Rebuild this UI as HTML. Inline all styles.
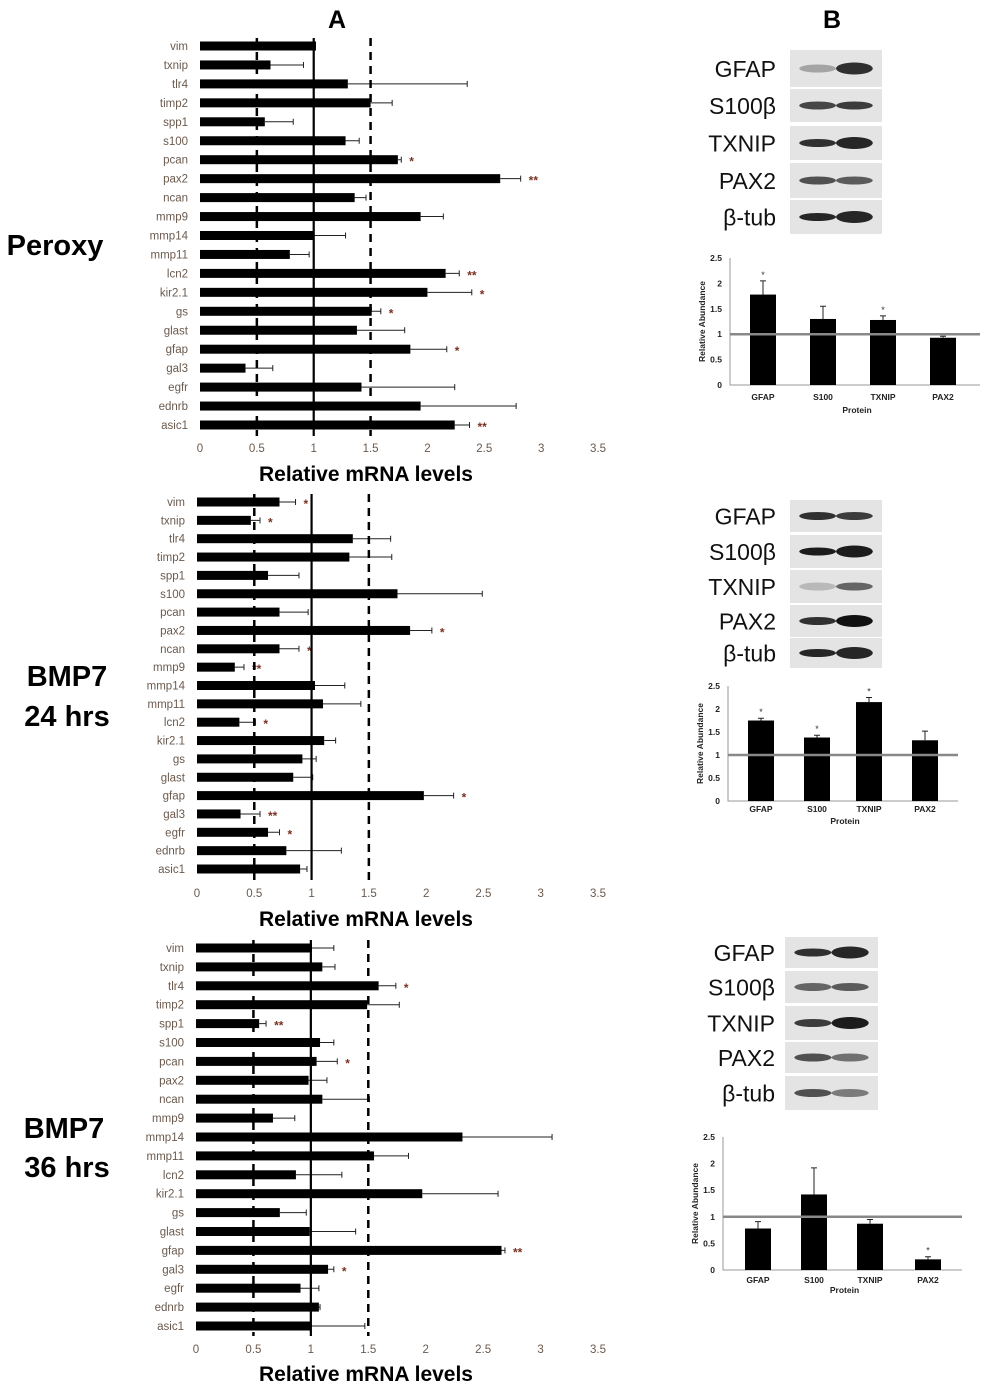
<!DOCTYPE html>
<html><head><meta charset="utf-8"><style>
html,body{margin:0;padding:0;background:#fff;}
svg{display:block;font-family:"Liberation Sans",Arial,sans-serif;}
</style></head><body>
<svg id="fig" width="984" height="1392" viewBox="0 0 984 1392"></svg>
<script>
const genes=["vim","txnip","tlr4","timp2","spp1","s100","pcan","pax2","ncan","mmp9","mmp14","mmp11","lcn2","kir2.1","gs","glast","gfap","gal3","egfr","ednrb","asic1"];
const xTicks=["0","0.5","1","1.5","2","2.5","3","3.5"];
const peroxyVals=[1.02,0.62,1.30,1.50,0.57,1.28,1.74,2.64,1.36,1.94,1.0,0.79,2.16,2.0,1.51,1.38,1.85,0.40,1.42,1.94,2.24];
const peroxyErr=[0,0.29,1.05,0.19,0.25,0.12,0.03,0.18,0.10,0.20,0.28,0.17,0.12,0.39,0.08,0.42,0.32,0.24,0.82,0.84,0.13];
const peroxySig=["","","","","","","*","**","","","","","**","*","*","","*","","","","**"];
const bmp24Vals=[0.72,0.47,1.36,1.33,0.62,1.75,0.72,1.86,0.72,0.33,1.03,1.10,0.37,1.11,0.92,0.84,1.98,0.38,0.62,0.78,0.90];
const bmp24Err=[0.14,0.08,0.33,0.37,0.27,0.74,0.25,0.19,0.17,0.08,0.26,0.33,0.14,0.10,0.12,0.17,0.26,0.17,0.10,0.48,0.06];
const bmp24Sig=["*","*","","","","","","*","*","**","","","*","","","","*","**","*","",""];
const bmp36Vals=[1.01,1.10,1.59,1.49,0.55,1.08,1.05,0.98,1.10,0.67,2.32,1.55,0.87,1.97,0.73,0.99,2.66,1.15,0.91,1.07,1.00];
const bmp36Err=[0.19,0.11,0.15,0.28,0.06,0.12,0.18,0.16,0.41,0.19,0.78,0.30,0.40,0.66,0.23,0.40,0.03,0.05,0.16,0.01,0.47];
const bmp36Sig=["","","*","","**","","*","","","","","","","","","","**","*","","",""];
const proteins=["GFAP","S100","TXNIP","PAX2"];
const yTicks=["0","0.5","1","1.5","2","2.5"];
const wb1Vals=[1.78,1.30,1.28,0.93], wb1Err=[0.27,0.25,0.08,0.03], wb1Sig=["*","","*",""];
const wb2Vals=[1.75,1.38,2.15,1.32], wb2Err=[0.05,0.05,0.10,0.20], wb2Sig=["*","*","*",""];
const wb3Vals=[0.78,1.42,0.87,0.20], wb3Err=[0.13,0.50,0.08,0.05], wb3Sig=["","","","*"];
const blotLabels=["GFAP","S100β","TXNIP","PAX2","β-tub"];

const NS="http://www.w3.org/2000/svg", svg=document.getElementById("fig");
function mk(tag,attrs,parent,text){const e=document.createElementNS(NS,tag);for(const k in attrs)e.setAttribute(k,attrs[k]);if(text!==undefined)e.textContent=text;(parent||svg).appendChild(e);return e;}

function hbar(name,vals,errs,sig,x0,x35,yFirst,yLast,tickY,titleY,lineTop,lineBot){
  const g=mk("g",{});
  
  
  const sx=v=>x0+(x35-x0)*v/3.5;
  const step=(yLast-yFirst)/(genes.length-1);
  const sy=i=>yFirst+i*step;
  genes.forEach((gn,i)=>{
    const t=mk("text",{x:x0-12,y:sy(i)+4,"text-anchor":"end","font-size":11.5,fill:"#6b5a4e"},g,gn);
    
    
    const b=mk("rect",{x:x0,y:sy(i)-4.5,width:sx(vals[i])-x0,height:9,fill:"#000"},g);
    
    
    if(errs[i]>0.005){
      const xe=sx(vals[i]+errs[i]);
      const l=mk("path",{d:`M${sx(vals[i])},${sy(i)}H${xe}M${xe},${sy(i)-3}V${sy(i)+3}`,stroke:"#222","stroke-width":1},g);
      
      
    }
    if(sig[i]){
      const s=mk("text",{x:sx(vals[i]+errs[i])+8,y:sy(i)+6,"font-size":12,fill:"#7a3020","font-weight":"bold"},g,sig[i]);
      
      
    }
  });
  [[0.5,true],[1,false],[1.5,true]].forEach(([v,d])=>{
    const l=mk("line",{x1:sx(v),x2:sx(v),y1:lineTop,y2:lineBot,stroke:"#000","stroke-width":d?2.5:2.2},g);
    if(d)l.setAttribute("stroke-dasharray","8,6");
    
    
  });
  xTicks.forEach((t,i)=>{
    const e=mk("text",{x:sx(i*0.5),y:tickY,"text-anchor":"middle","font-size":11.5,fill:"#6b5a4e"},g,t);
    
    
  });
  const ti=mk("text",{x:366,y:titleY,"text-anchor":"middle","font-size":21,"font-weight":"bold",fill:"#000"},g,"Relative mRNA levels");
  
  
}
hbar("peroxy",peroxyVals,peroxyErr,peroxySig,200,598,46,425,452,481,38,436);
hbar("bmp7-24h",bmp24Vals,bmp24Err,bmp24Sig,197,598,502,869,897,926,494,880);
hbar("bmp7-36h",bmp36Vals,bmp36Err,bmp36Sig,196,598,948,1326,1353,1381,940,1336);

function vbar(name,vals,errs,sig,axX,axRight,y0,y25,centers,labY,protY){
  const g=mk("g",{});
  
  
  const sy=v=>y0-(y0-y25)*v/2.5;
  mk("path",{d:`M${axX},${y25}V${y0}H${axRight}`,stroke:"#999",fill:"none","stroke-width":1},g);
  yTicks.forEach((t,i)=>{
    const e=mk("text",{x:axX-8,y:sy(i*0.5)+3,"text-anchor":"end","font-size":8.5,"font-weight":"bold",fill:"#222"},g,t);
    
    
  });
  proteins.forEach((p,i)=>{
    const c=centers[i];
    const b=mk("rect",{x:c-13,y:sy(vals[i]),width:26,height:y0-sy(vals[i]),fill:"#000"},g);
    
    
    const ye=sy(vals[i]+errs[i]);
    mk("path",{d:`M${c},${sy(vals[i])}V${ye}M${c-3},${ye}H${c+3}`,stroke:"#222","stroke-width":1},g);
    if(sig[i]){mk("text",{x:c,y:ye-3,"text-anchor":"middle","font-size":9,fill:"#333"},g,sig[i]);}
    const l=mk("text",{x:c,y:labY,"text-anchor":"middle","font-size":8.5,"font-weight":"bold",fill:"#222"},g,p);
    
    
  });
  const r=mk("line",{x1:axX,x2:axRight,y1:sy(1),y2:sy(1),stroke:"#888","stroke-width":2.5},g);
  
  
  const pt=mk("text",{x:(axX+axRight)/2+2,y:protY,"text-anchor":"middle","font-size":8.5,"font-weight":"bold",fill:"#222"},g,"Protein");
  
  
  const cy=(y0+y25)/2;
  const yt=mk("text",{x:axX-25,y:cy,"text-anchor":"middle","font-size":8.5,"font-weight":"bold",fill:"#222",transform:`rotate(-90 ${axX-25} ${cy})`},g,"Relative Abundance");
  
  
}
vbar("peroxy",wb1Vals,wb1Err,wb1Sig,730,980,385,258,[763,823,883,943],400,413);
vbar("bmp7-24h",wb2Vals,wb2Err,wb2Sig,728,958,801,686,[761,817,869,925],812,824);
vbar("bmp7-36h",wb3Vals,wb3Err,wb3Sig,723,962,1270,1137,[758,814,870,928],1283,1293);

function blot(name,labelX,bx,bw,rows,fs,bandSets){
  rows.forEach((r,i)=>{
    const t=mk("text",{x:labelX,y:(r[0]+r[1])/2+fs*0.36,"text-anchor":"end","font-size":fs,fill:"#111"},svg,blotLabels[i]);
    
    
    const bg=mk("rect",{x:bx,y:r[0],width:bw,height:r[1]-r[0],fill:"#e4e4e4"});
    
    
    const cy=(r[0]+r[1])/2;
    bandSets[i].forEach((op,j)=>{
      mk("ellipse",{cx:bx+bw*(j?0.7:0.3),cy:cy,rx:bw*0.2,ry:(j&&op>0.8)?6:4,fill:"#111","fill-opacity":op});
    });
  });
}
blot("peroxy",776,790,92,[[50,87],[89,122],[126,160],[163,198],[200,234]],23,[[0.3,0.85],[0.75,0.8],[0.85,0.9],[0.7,0.65],[0.9,0.9]]);
blot("bmp24",776,790,92,[[500,532],[535,568],[570,603],[605,637],[638,668]],23,[[0.85,0.8],[0.95,0.95],[0.2,0.6],[0.85,1.0],[0.9,0.9]]);
blot("bmp36",775,785,93,[[937,968],[971,1003],[1006,1040],[1042,1073],[1076,1110]],23,[[0.85,0.9],[0.6,0.65],[0.8,0.95],[0.7,0.55],[0.7,0.5]]);

[["A",337,28],["B",832,28]].forEach(([t,x,y])=>{const e=mk("text",{x:x,y:y,"text-anchor":"middle","font-size":25,"font-weight":"bold"},svg,t);});
[["Peroxy",55,255],["BMP7",67,686],["24 hrs",67,726],["BMP7",64,1138],["36 hrs",67,1177]].forEach(([t,x,y])=>{const e=mk("text",{x:x,y:y,"text-anchor":"middle","font-size":29,"font-weight":"bold"},svg,t);});
</script>
</body></html>
